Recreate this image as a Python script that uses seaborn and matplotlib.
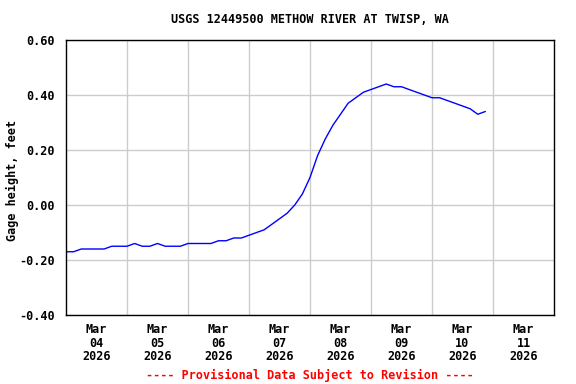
import numpy as np
import pandas as pd
import seaborn as sns
import matplotlib
matplotlib.use("Agg")
import matplotlib.pyplot as plt

# gage height readings every 3 hours, starting Mar 04 2026 00:00
mar04 = [-0.17, -0.17, -0.16, -0.16, -0.16, -0.16, -0.15, -0.15]
mar05 = [-0.15, -0.14, -0.15, -0.15, -0.14, -0.15, -0.15, -0.15]
mar06 = [-0.14, -0.14, -0.14, -0.14, -0.13, -0.13, -0.12, -0.12]
mar07 = [-0.11, -0.10, -0.09, -0.07, -0.05, -0.03, 0.00, 0.04]
mar08 = [0.10, 0.18, 0.24, 0.29, 0.33, 0.37, 0.39, 0.41]
mar09 = [0.42, 0.43, 0.44, 0.43, 0.43, 0.42, 0.41, 0.40]
mar10 = [0.39, 0.39, 0.38, 0.37, 0.36, 0.35, 0.33, 0.34]

gage = mar04 + mar05 + mar06 + mar07 + mar08 + mar09 + mar10
times = pd.date_range("2026-03-04 00:00", periods=len(gage), freq="3h")
df = pd.DataFrame({"time": times, "gage": gage})

y_ticks = [-0.40, -0.20, 0.00, 0.20, 0.40, 0.60]
day_labels = ["04", "05", "06", "07", "08", "09", "10", "11"]

sns.set_style("white")
plt.rcParams["font.family"] = ["DejaVu Sans Mono"]
plt.rcParams["font.weight"] = "bold"
for key in ["text.color", "axes.labelcolor", "xtick.color", "ytick.color"]:
    plt.rcParams[key] = "black"

fig = plt.figure(figsize=(5.76, 3.84), dpi=100)
ax = fig.add_subplot(111)
fig.subplots_adjust(left=66/576, right=554/576, top=1-40/384, bottom=1-315/384)

sns.lineplot(data=df, x="time", y="gage", color="#0000ff", linewidth=1, ax=ax)

start = pd.Timestamp("2026-03-04")
ax.set_xlim(start, start + pd.Timedelta(days=8))
ax.set_ylim(-0.40, 0.60)

# grid at midnight, labels at noon
ax.set_xticks([start + pd.Timedelta(days=d) for d in range(1, 8)])
ax.set_xticklabels([])
ax.set_xticks([start + pd.Timedelta(days=d, hours=12) for d in range(8)], minor=True)
ax.set_xticklabels(["Mar\n%s\n2026" % d for d in day_labels], minor=True,
                   fontsize=8.5, fontweight="bold", linespacing=1.05)
ax.tick_params(axis="x", which="both", length=0, pad=6)

ax.set_yticks(y_ticks)
ax.set_yticklabels(["%.2f" % v for v in y_ticks], fontsize=8.5, fontweight="bold")
ax.tick_params(axis="y", length=0, pad=8)

ax.grid(True, which="major", color="#cccccc", linewidth=1)
ax.set_axisbelow(True)
for s in ax.spines.values():
    s.set_color("black")
    s.set_linewidth(1)

ax.set_xlabel("")
ax.set_ylabel("Gage height, feet", fontsize=8.5, fontweight="bold")
ax.yaxis.set_label_coords(-0.097, 0.49)
ax.set_title("USGS 12449500 METHOW RIVER AT TWISP, WA", fontsize=8.5,
             fontweight="bold", pad=12)
fig.text(310/576, 1-375/384, "---- Provisional Data Subject to Revision ----",
         color="red", fontsize=8.5, fontweight="bold", ha="center", va="center")

plt.savefig("out.png", dpi=100)
plt.close()
